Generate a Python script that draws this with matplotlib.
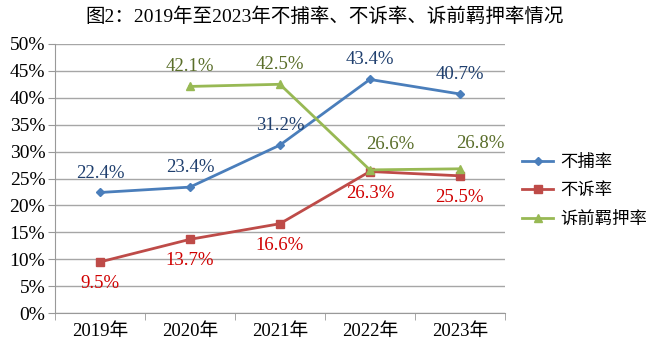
import matplotlib
matplotlib.use('Agg')
import matplotlib.pyplot as plt
from matplotlib.ticker import PercentFormatter

plt.rcParams['font.family'] = ['Liberation Serif', 'Noto Sans CJK SC']

years = ['2019年', '2020年', '2021年', '2022年', '2023年']
buburate = [22.4, 23.4, 31.2, 43.4, 40.7]
busurate = [9.5, 13.7, 16.6, 26.3, 25.5]
jiyarate = [None, 42.1, 42.5, 26.6, 26.8]

series = [
    ('不捕率', buburate, '#4A7EBB', '#1F3F6E', 'D', 'above'),
    ('不诉率', busurate, '#BE4B48', '#D00000', 's', 'below'),
    ('诉前羁押率', jiyarate, '#98B954', '#5A6E2A', '^', 'above'),
]
# labels that were nudged to avoid overlap (series, index) -> offset in points
nudged = {('诉前羁押率', 3): (15, 18), ('诉前羁押率', 4): (15, 18)}

fig = plt.figure(figsize=(6.5, 3.57), dpi=100)
ax = fig.add_axes([0.0846, 0.123, 0.692, 0.754])

for name, vals, color, lcolor, marker, pos in series:
    xs = [i for i, v in enumerate(vals) if v is not None]
    ys = [v for v in vals if v is not None]
    ms = 4.5 if marker == 'D' else 6
    ax.plot(xs, ys, color=color, linewidth=2, marker=marker, markersize=ms, label=name)
    for x, y in zip(xs, ys):
        off = nudged.get((name, x), (0, 14 if pos == 'above' else -15.5))
        ax.annotate(f'{y:.1f}%', (x, y), xytext=off, textcoords='offset points',
                    ha='center', va='center', color=lcolor, fontsize=13.5)

ax.set_xlim(-0.5, 4.5)
ax.set_ylim(0, 50)
ax.set_yticks(range(0, 51, 5))
ax.yaxis.set_major_formatter(PercentFormatter(decimals=0))
ax.set_xticks(range(5))
ax.set_xticklabels(years)
ax.set_xticks([i - 0.5 for i in range(6)], minor=True)
ax.tick_params(axis='x', which='major', length=0, labelsize=13.5, pad=7)
ax.tick_params(axis='x', which='minor', length=5, color='#999999')
ax.tick_params(axis='y', length=5, color='#999999', labelsize=14, pad=2)
ax.grid(axis='y', color='#a6a6a6', linewidth=1)
ax.set_axisbelow(True)
for s in ['top', 'right']:
    ax.spines[s].set_visible(False)
for s in ['left', 'bottom']:
    ax.spines[s].set_color('#999999')

fig.suptitle('图2：2019年至2023年不捕率、不诉率、诉前羁押率情况', x=0.5, y=0.98, fontsize=14)
ax.legend(loc='center left', bbox_to_anchor=(1.0, 0.452), frameon=False, fontsize=12.5,
          handlelength=1.8, handletextpad=0.4, labelspacing=0.72, borderaxespad=0.6)

fig.savefig('out.png', dpi=100)
